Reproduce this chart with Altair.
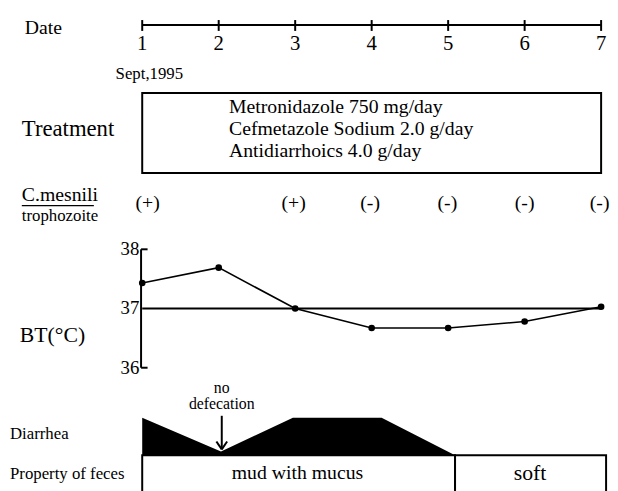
import altair as alt
import pandas as pd

# ---------------- data ----------------
days = [1, 2, 3, 4, 5, 6, 7]
day_labels = ["1", "2", "3", "4", "5", "6", "7"]
temps = [37.43, 37.69, 37.0, 36.67, 36.67, 36.78, 37.03]
temp_ticks = [36, 37, 38]
troph_days = [1.07, 2.98, 3.98, 4.99, 6.0, 6.98]
troph_marks = ["(+)", "(+)", "(-)", "(-)", "(-)", "(-)"]
treatments = ["Metronidazole 750 mg/day",
              "Cefmetazole Sodium 2.0 g/day",
              "Antidiarrhoics 4.0 g/day"]
diarrhea_days = [1, 2.03, 2.97, 4.13, 5.09]
diarrhea_level = [1, 0.1, 1, 1, 0]
feces_start = [1, 5.09]
feces_end = [5.09, 7.065]
feces_labels = ["mud with mucus", "soft"]
feces_label_days = [3.03, 6.07]
start_label = "Sept,1995"

FONT = "'Liberation Serif', 'Times New Roman', 'DejaVu Serif', serif"
W, H = 610, 483

# x scale: day 1 -> page x 144, day 7 -> page x 609
PX_PER_DAY = 77.5
x_scale = alt.Scale(domain=[1 - 136 / PX_PER_DAY, 7 + 9 / PX_PER_DAY], nice=False, zero=False)
X = lambda f="day": alt.X(f"{f}:Q", scale=x_scale, axis=None)

# temperature scale: 38 -> plot y 241.3, 36 -> plot y 361.3
T_PX = 60.0
t_scale = alt.Scale(domain=[36 - (H - 361.3) / T_PX, 38 + 241.3 / T_PX], nice=False, zero=False)
# diarrhea scale: 0 -> plot y 450, 1 -> plot y 412
D_PX = 38.0
d_scale = alt.Scale(domain=[-(H - 450) / D_PX, 450 / D_PX], nice=False, zero=False)


def txt(df, **kw):
    return alt.Chart(pd.DataFrame(df)).mark_text(font=FONT, **kw)


# ---------------- date axis ----------------
date_df = pd.DataFrame({"day": days, "label": day_labels})
axis_line = alt.Chart(pd.DataFrame({"day": [1], "day2": [7]})).mark_rule(
    color="black", strokeWidth=2).encode(x=X(), x2="day2:Q", y=alt.value(14))
axis_ticks = alt.Chart(date_df).mark_rule(color="black", strokeWidth=2).encode(
    x=X(), y=alt.value(9), y2=alt.value(20))
axis_labels = alt.Chart(date_df).mark_text(font=FONT, fontSize=21, baseline="middle").encode(
    x=X(), y=alt.value(33), text="label:N")
date_title = txt({"t": ["Date"]}, fontSize=20, align="left", baseline="middle").encode(
    x=alt.value(17), y=alt.value(17), text="t:N")
sept = txt({"t": [start_label]}, fontSize=17, align="left", baseline="middle").encode(
    x=alt.value(109), y=alt.value(64), text="t:N")

# ---------------- treatment ----------------
treat_box = alt.Chart(pd.DataFrame({"day": [1], "day2": [7]})).mark_rect(
    fill=None, stroke="black", strokeWidth=2).encode(
    x=X(), x2="day2:Q", y=alt.value(83), y2=alt.value(164))
treat_df = pd.DataFrame({"day": [2.135] * 3, "t": treatments, "py": [97, 119, 142]})
treat_text = alt.Chart(treat_df).mark_text(font=FONT, fontSize=20, align="left", baseline="middle").encode(
    x=X(), y=alt.Y("py:Q", scale=None, axis=None), text="t:N")
treat_title = txt({"t": ["Treatment"]}, fontSize=23, align="left", baseline="middle").encode(
    x=alt.value(14), y=alt.value(119), text="t:N")

# ---------------- C. mesnili ----------------
cm_title = txt({"t": ["C.mesnili"]}, fontSize=20, align="left", baseline="middle").encode(
    x=alt.value(14), y=alt.value(186), text="t:N")
cm_under = alt.Chart(pd.DataFrame({"a": [0]})).mark_rule(color="black", strokeWidth=1.2).encode(
    x=alt.value(14), x2=alt.value(87), y=alt.value(197))
cm_sub = txt({"t": ["trophozoite"]}, fontSize=17, align="left", baseline="middle").encode(
    x=alt.value(14), y=alt.value(208), text="t:N")
troph = alt.Chart(pd.DataFrame({"day": troph_days, "t": troph_marks})).mark_text(
    font=FONT, fontSize=20, baseline="middle").encode(x=X(), y=alt.value(194), text="t:N")

# ---------------- body temperature ----------------
temp_df = pd.DataFrame({"day": days, "temp": temps})
Yt = alt.Y("temp:Q", scale=t_scale, axis=None)
temp_line = alt.Chart(temp_df).mark_line(color="black", strokeWidth=1.6).encode(x=X(), y=Yt)
temp_pts = alt.Chart(temp_df).mark_point(filled=True, color="black", size=45, opacity=1).encode(x=X(), y=Yt)
ref_line = alt.Chart(pd.DataFrame({"day": [1], "day2": [7], "temp": [37.0]})).mark_rule(
    color="black", strokeWidth=2).encode(x=X(), x2="day2:Q", y=Yt)
bt_axis = alt.Chart(pd.DataFrame({"day": [0.985], "temp": [36], "temp2": [38]})).mark_rule(
    color="black", strokeWidth=2).encode(x=X(), y=Yt, y2="temp2:Q")
bt_ticks = alt.Chart(pd.DataFrame({"day": [0.985, 0.985], "day2": [1.07, 1.07], "temp": [36, 38]})).mark_rule(
    color="black", strokeWidth=2).encode(x=X(), x2="day2:Q", y=Yt)
bt_labels = alt.Chart(pd.DataFrame({"temp": temp_ticks, "t": [str(v) for v in temp_ticks]})).mark_text(
    font=FONT, fontSize=19, align="right", baseline="middle").encode(
    x=alt.value(133), y=Yt, text="t:N")
bt_title = txt({"t": ["BT(°C)"]}, fontSize=22, align="left", baseline="middle").encode(
    x=alt.value(12), y=alt.value(328), text="t:N")

# ---------------- diarrhea ----------------
dia_df = pd.DataFrame({"day": diarrhea_days, "level": diarrhea_level})
dia_area = alt.Chart(dia_df).mark_area(color="black", opacity=1).encode(
    x=X(), y=alt.Y("level:Q", scale=d_scale, axis=None))
dia_title = txt({"t": ["Diarrhea"]}, fontSize=17, align="left", baseline="middle").encode(
    x=alt.value(2), y=alt.value(429), text="t:N")
note = txt({"day": [2.04, 2.04], "t": ["no", "defecation"], "py": [382, 398]},
           fontSize=16, baseline="middle").encode(
    x=X(), y=alt.Y("py:Q", scale=None, axis=None), text="t:N")
arrow = alt.Chart(pd.DataFrame({"day": [2.04, 1.97, 2.11], "day2": [2.04, 2.04, 2.04],
                                "y1": [410, 436, 436], "y2": [444, 444, 444]})).mark_rule(
    color="black", strokeWidth=2).encode(
    x=X(), x2="day2:Q", y=alt.Y("y1:Q", scale=None, axis=None), y2="y2:Q")

# ---------------- property of feces ----------------
fec_box = alt.Chart(pd.DataFrame({"day": feces_start, "day2": feces_end})).mark_rect(
    fill=None, stroke="black", strokeWidth=2).encode(
    x=X(), x2="day2:Q", y=alt.value(450), y2=alt.value(495))
fec_text = alt.Chart(pd.DataFrame({"day": feces_label_days, "t": feces_labels,
                                   "fs": [20, 22]})).mark_text(font=FONT, baseline="middle").encode(
    x=X(), y=alt.value(468), text="t:N", size=alt.Size("fs:Q", scale=None, legend=None))
fec_title = txt({"t": ["Property of feces"]}, fontSize=17, align="left", baseline="middle").encode(
    x=alt.value(2), y=alt.value(469), text="t:N")

chart = alt.layer(
    axis_line, axis_ticks, axis_labels, date_title, sept,
    treat_box, treat_text, treat_title,
    cm_title, cm_under, cm_sub, troph,
    ref_line, temp_line, temp_pts, bt_axis, bt_ticks, bt_labels, bt_title,
    dia_area, dia_title, note, arrow,
    fec_box, fec_text, fec_title,
).resolve_scale(y="independent").properties(
    width=W, height=H, padding=0, autosize=alt.AutoSizeParams(type="none"),
    background="white",
).configure_view(stroke=None)

chart.save("out.html", embed_options={"renderer": "svg", "actions": False})
